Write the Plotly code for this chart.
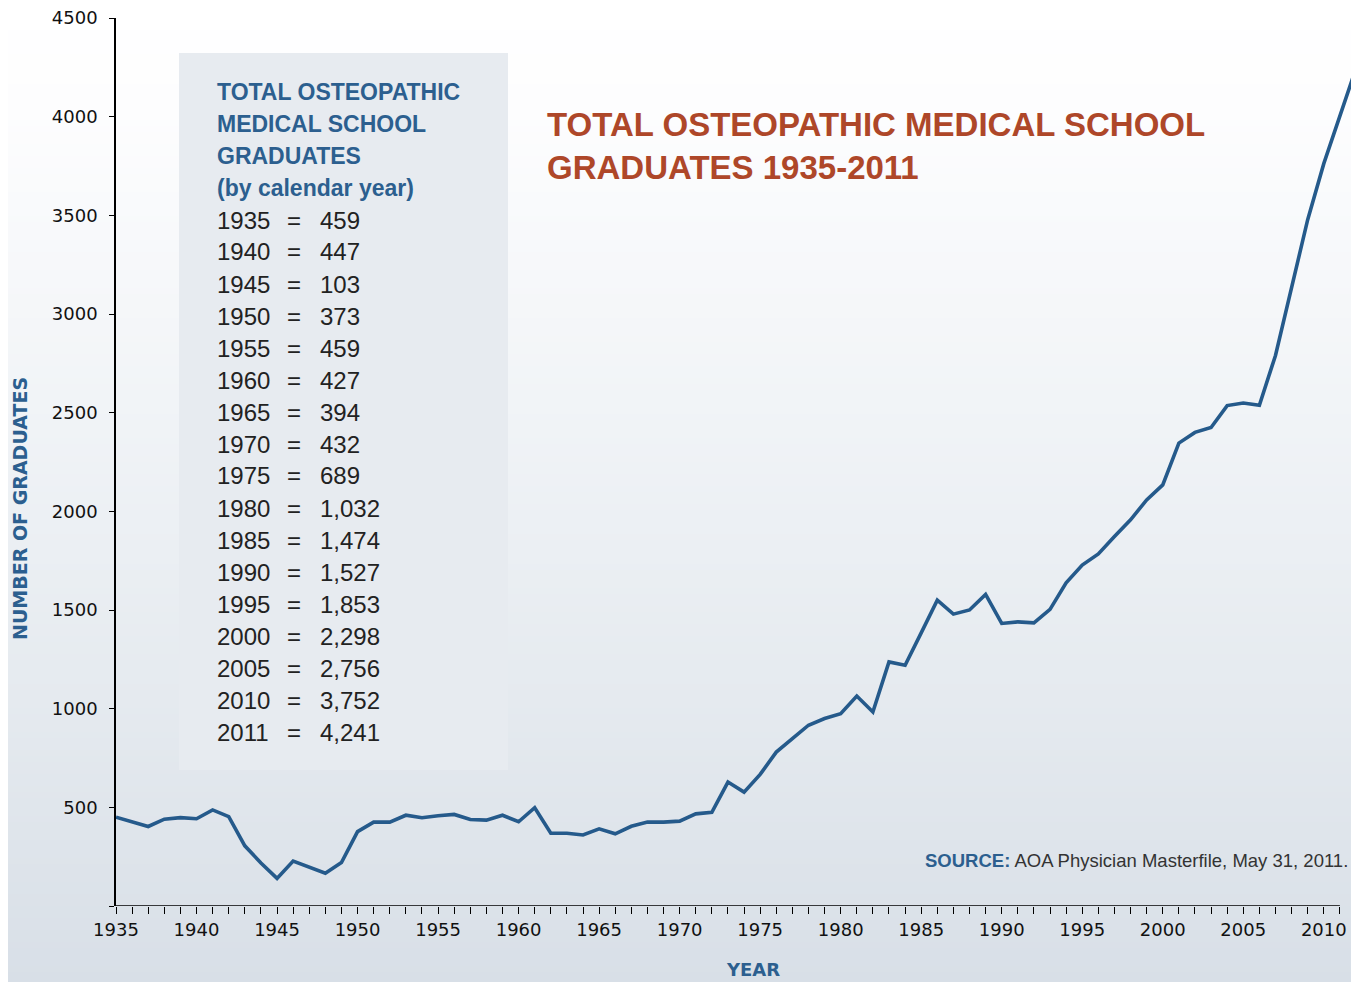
"""Total osteopathic medical school graduates 1935-2011"""
import plotly.graph_objects as go

# ---- data ----
years = list(range(1935, 2013))
graduates = [
    450, 427, 403, 440, 448, 442, 487, 453, 305, 218,
    140, 228, 196, 166, 220, 377, 425, 425, 460, 447,
    457, 464, 438, 435, 460, 427, 498, 369, 369, 360,
    391, 366, 404, 425, 425, 430, 467, 475, 628, 577,
    667, 780, 848, 916, 950, 975, 1064, 983, 1237, 1220,
    1384, 1550, 1479, 1500, 1579, 1432, 1440, 1435, 1503, 1638,
    1728, 1784, 1872, 1957, 2058, 2134, 2346, 2400, 2425, 2536,
    2549, 2537, 2790, 3140, 3478, 3762, 4003, 4245,
]

table_years = ["1935", "1940", "1945", "1950", "1955", "1960", "1965", "1970",
               "1975", "1980", "1985", "1990", "1995", "2000", "2005", "2010", "2011"]
table_values = ["459", "447", "103", "373", "459", "427", "394", "432",
                "689", "1,032", "1,474", "1,527", "1,853", "2,298", "2,756", "3,752", "4,241"]
table_heading = ["TOTAL OSTEOPATHIC", "MEDICAL SCHOOL", "GRADUATES", "(by calendar year)"]

x_major = list(range(1935, 2011, 5))
x_minor = [y for y in range(1935, 2012) if y % 5]
y_ticks = list(range(0, 5000, 500))
y_labels = ["" if v == 0 else str(v) for v in y_ticks]

BLUE = "#2c5f8f"
LINE = "#255a8b"
RUST = "#ae4729"

# the page puts the figure 8px in from the top-left corner
OFF = 8
W, H = 1359 - OFF, 982 - OFF
L, R, T, B = 116 - OFF, 3, 18 - OFF, 76
PW, PH = W - L - R, H - T - B


def px(x):
    """page pixel x -> paper coordinate"""
    return (x - OFF - L) / PW


def py(y):
    """page pixel y -> paper coordinate"""
    return (H - B - (y - OFF)) / PH


def hexmix(c1, c2, t):
    a = [int(c1[i:i + 2], 16) for i in (1, 3, 5)]
    b = [int(c2[i:i + 2], 16) for i in (1, 3, 5)]
    return "#" + "".join("%02x" % round(a[k] + (b[k] - a[k]) * t) for k in range(3))


def background():
    """Vertical white -> light blue-grey gradient built from thin bands"""
    stops = [(0, "#ffffff"), (110, "#fdfdfe"), (400, "#f1f4f7"),
             (700, "#e5eaef"), (982, "#d8dfe7")]
    shapes = []
    step = 6
    for y0 in range(0, 982, step):
        yc = y0 + step / 2
        for (a, ca), (b, cb) in zip(stops, stops[1:]):
            if a <= yc <= b:
                col = hexmix(ca, cb, (yc - a) / (b - a))
                break
        shapes.append(dict(type="rect", xref="paper", yref="paper", layer="below",
                           x0=px(0), x1=px(1359), y0=py(y0 + step + 0.5), y1=py(y0),
                           fillcolor=col, line=dict(width=0)))
    return shapes


fig = go.Figure()
fig.add_trace(go.Scatter(x=years, y=graduates, mode="lines",
                         line=dict(color=LINE, width=3.6), hoverinfo="x+y"))

shapes = background()
# light panel behind the table
shapes.append(dict(type="rect", xref="paper", yref="paper", layer="below",
                   x0=px(179), x1=px(508), y0=py(770), y1=py(53),
                   fillcolor="#e7ebf0", line=dict(width=0)))
# x axis line (stops at the 2011 tick)
shapes.append(dict(type="line", xref="x", yref="y", x0=1935, x1=2011, y0=0, y1=0,
                   line=dict(color="black", width=1.5)))

ann = []
table_font = "Liberation Sans, Arial, sans-serif"
for i, txt in enumerate(table_heading):
    ann.append(dict(text="<b>%s</b>" % txt, x=px(215), y=py(92 + 32 * i),
                    xanchor="left", yanchor="middle",
                    font=dict(family=table_font, size=23, color=BLUE)))
for i, (yr, val) in enumerate(zip(table_years, table_values)):
    yy = py(220 + 32 * i)
    ann.append(dict(text=yr, x=px(215), y=yy, xanchor="left", yanchor="middle",
                    font=dict(family=table_font, size=24, color="#222222")))
    ann.append(dict(text="=", x=px(294), y=yy, xanchor="center", yanchor="middle",
                    font=dict(family=table_font, size=24, color="#222222")))
    ann.append(dict(text=val, x=px(318), y=yy, xanchor="left", yanchor="middle",
                    font=dict(family=table_font, size=24, color="#222222")))

ann.append(dict(text="<b>TOTAL OSTEOPATHIC MEDICAL SCHOOL<br>GRADUATES 1935-2011</b>",
                x=px(545), y=py(146), xanchor="left", yanchor="middle", align="left",
                font=dict(family=table_font, size=33, color=RUST)))
ann.append(dict(text="<b><span style='color:%s'>SOURCE:</span></b> AOA Physician Masterfile, May 31, 2011." % BLUE,
                x=px(1350), y=py(860), xanchor="right", yanchor="middle",
                font=dict(family=table_font, size=18.5, color="#333333")))
ann.append(dict(text="<b>NUMBER OF GRADUATES</b>", x=px(20), y=py(509), textangle=-90,
                xanchor="center", yanchor="middle",
                font=dict(family="DejaVu Sans", size=19, color=BLUE)))
ann.append(dict(text="<b>YEAR</b>", x=px(753), y=py(970), xanchor="center", yanchor="middle",
                font=dict(family="DejaVu Sans", size=18, color=BLUE)))
for a in ann:
    a.update(xref="paper", yref="paper", showarrow=False)

fig.update_layout(
    width=W, height=H, autosize=False,
    margin=dict(l=L, r=R, t=T, b=B, pad=0, autoexpand=False),
    paper_bgcolor="white", plot_bgcolor="rgba(0,0,0,0)",
    showlegend=False, shapes=shapes, annotations=ann,
    font=dict(family="DejaVu Sans", size=18, color="#111111"),
    xaxis=dict(range=[1935, 2012], showgrid=False, zeroline=False, showline=False,
               automargin=False,
               tickmode="array", tickvals=x_major, ticks="outside", ticklen=7,
               tickwidth=1.3, tickcolor="black", ticklabeloverflow="allow",
               minor=dict(tickmode="array", tickvals=x_minor, ticks="outside",
                          ticklen=7, tickwidth=1.3, tickcolor="black"),
               tickfont=dict(family="DejaVu Sans", size=18, color="#111111")),
    yaxis=dict(range=[0, 4500], showgrid=False, zeroline=False, showline=True,
               automargin=False, linecolor="black", linewidth=1.5,
               tickmode="array", tickvals=y_ticks, ticktext=y_labels,
               ticks="outside", ticklen=5, tickwidth=1.3, tickcolor="black",
               ticklabelstandoff=8, ticklabeloverflow="allow",
               tickfont=dict(family="DejaVu Sans", size=18, color="#111111")),
)

fig.write_html("out.html")
